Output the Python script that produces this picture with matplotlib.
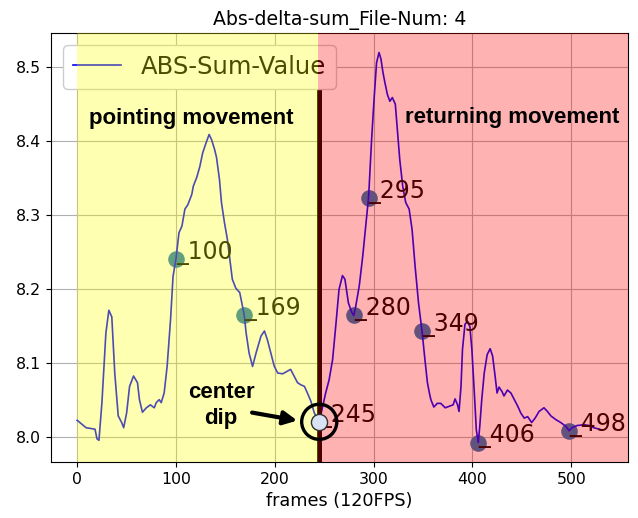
import matplotlib
matplotlib.use('Agg')
import matplotlib.pyplot as plt

frames = [0, 9, 18, 20, 22, 25, 29, 32, 35, 38, 41.5, 45, 47, 50, 53, 57, 61, 63, 66, 70,
          74, 78, 80, 83, 85, 88, 91, 94.5, 97, 100, 103, 106, 109, 112, 116, 117.5, 121, 124,
          127, 130, 133.5, 136, 139, 141, 144, 146, 149, 152, 154.5, 157, 160.5, 164.5, 169,
          171, 174, 177.5, 181, 186, 189.5, 192.5, 196, 199.5, 203, 208, 212, 216, 219.5, 223,
          226.5, 230, 233, 236.5, 240, 245, 251.5, 255, 258.5, 262, 265, 268.5, 271, 274.5,
          278, 280, 282, 285.5, 289, 292, 295, 298, 300.5, 303, 305.5, 307.5, 309.5, 311.5,
          314, 316.5, 319, 322, 324, 326.5, 329.5, 332.5, 336, 339, 342, 345.5, 349, 352,
          354.5, 356.5, 358, 361, 364.5, 368, 372.5, 376.5, 380.5, 382.5, 385, 386.5, 388.5,
          390, 392.5, 395, 397.5, 399.5, 402, 404, 406, 407.5, 409.5, 412, 415, 418, 420.5,
          423, 425, 427, 430, 432, 435.5, 439, 442.5, 446, 449, 452.5, 456, 460, 463.5, 467.5,
          472.5, 476, 479.5, 484.5, 489.5, 494.5, 498, 501, 506, 513, 518, 523, 531]
values = [8.022, 8.012, 8.010, 7.997, 7.995, 8.046, 8.140, 8.171, 8.162, 8.086, 8.028, 8.019,
          8.012, 8.032, 8.068, 8.082, 8.073, 8.050, 8.033, 8.039, 8.043, 8.039, 8.046, 8.050,
          8.046, 8.059, 8.095, 8.159, 8.217, 8.241, 8.276, 8.285, 8.308, 8.314, 8.328, 8.339,
          8.351, 8.365, 8.384, 8.396, 8.409, 8.402, 8.389, 8.378, 8.348, 8.317, 8.290, 8.267,
          8.240, 8.213, 8.201, 8.195, 8.165, 8.140, 8.113, 8.095, 8.113, 8.136, 8.143, 8.131,
          8.113, 8.095, 8.086, 8.085, 8.088, 8.091, 8.082, 8.073, 8.070, 8.068, 8.059, 8.048,
          8.032, 8.020, 8.059, 8.077, 8.104, 8.154, 8.199, 8.218, 8.213, 8.181, 8.168, 8.164,
          8.177, 8.204, 8.244, 8.285, 8.325, 8.402, 8.457, 8.506, 8.520, 8.511, 8.493, 8.479,
          8.463, 8.454, 8.459, 8.450, 8.416, 8.375, 8.339, 8.317, 8.308, 8.280, 8.231, 8.181,
          8.143, 8.104, 8.073, 8.059, 8.050, 8.040, 8.045, 8.045, 8.039, 8.041, 8.043, 8.051,
          8.043, 8.034, 8.068, 8.118, 8.152, 8.156, 8.149, 8.118, 8.059, 8.009, 7.992, 8.014,
          8.050, 8.086, 8.111, 8.119, 8.109, 8.082, 8.059, 8.067, 8.061, 8.055, 8.063, 8.059,
          8.050, 8.041, 8.032, 8.025, 8.027, 8.019, 8.025, 8.034, 8.039, 8.034, 8.028, 8.023,
          8.019, 8.014, 8.008, 8.012, 8.015, 8.016, 8.015, 8.012, 8.009]

point_frames = [100, 169, 245, 280, 295, 349, 406, 498]
point_values = [8.241, 8.165, 8.020, 8.164, 8.323, 8.143, 7.992, 8.007]

split_frame = 245
title = 'Abs-delta-sum_File-Num: 4'
xlabel = 'frames (120FPS)'
legend_label = 'ABS-Sum-Value'

fig = plt.figure(figsize=(6.38, 5.18), dpi=100)
ax = fig.add_axes([51/638, 1-462/518, (628-51)/638, (462-33)/518])

ax.plot(frames, values, color='blue', lw=1.2, label=legend_label, zorder=3)
ax.scatter(point_frames, point_values, s=120, color='#1f77b4', zorder=2.5)
for f, v in zip(point_frames, point_values):
    ax.text(f, v, '_' + str(f), fontsize=17, ha='left', va='baseline', color='black', zorder=3)

ax.grid(True)
xmin, xmax = min(frames), max(frames)
xr = xmax - xmin
x0, x1 = xmin - 0.05 * xr, xmax + 0.05 * xr
ymin, ymax = min(values), max(values)
yr = ymax - ymin
ax.set_xlim(x0, x1)
ax.set_ylim(ymin - 0.05 * yr, ymax + 0.05 * yr)

ax.axvline(split_frame, ymin=0, ymax=0.874, color='black', lw=3.6, zorder=4)
leg = ax.legend(loc='upper left', fontsize=17.5, framealpha=1)
leg.set_zorder(5)

ax.axvspan(0, split_frame - 1.5, color='yellow', alpha=0.3, zorder=10, lw=0)
ax.axvspan(split_frame - 1.5, x1, color='red', alpha=0.3, zorder=10, lw=0)
ax.set_xlim(x0, x1)

ax.set_title(title, fontsize=13.6)
ax.set_xlabel(xlabel, fontsize=12.7)
ax.tick_params(labelsize=11.3)

bold = dict(family=['Liberation Sans', 'DejaVu Sans'], fontweight='bold', fontsize=16,
            color='black', zorder=20)
ax.text(12, 8.423, 'pointing movement', ha='left', va='baseline', **bold)
ax.text(332, 8.425, 'returning movement', ha='left', va='baseline', **bold)
ax.text(145.7, 8.052, 'center', ha='center', va='baseline', **bold)
ax.text(145.7, 8.0176, 'dip', ha='center', va='baseline', **bold)
ax.annotate('', xy=(222.7, 8.0217), xytext=(177, 8.0325),
            arrowprops=dict(arrowstyle='-|>', color='black', lw=3, mutation_scale=20,
                            shrinkA=0, shrinkB=0), zorder=20)

ax.scatter([split_frame], [point_values[2]], s=135, facecolor='#dae3f3', edgecolor='#333333',
           lw=1, zorder=21)
ax.scatter([split_frame], [point_values[2]], s=640, facecolor='none', edgecolor='black',
           lw=2.4, zorder=22)

fig.savefig('out.png', dpi=100)
